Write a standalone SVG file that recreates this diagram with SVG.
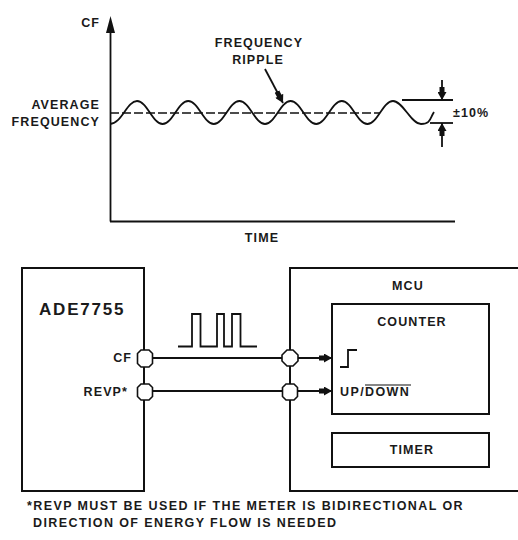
<svg xmlns="http://www.w3.org/2000/svg" width="518" height="540" viewBox="0 0 518 540">
<defs>
<style>
text{font-family:"Liberation Sans",Arial,sans-serif;font-weight:bold;fill:#1a1a1a;font-size:12.5px;letter-spacing:1.1px}
.ln{stroke:#111;stroke-width:1.8;fill:none}
.box{stroke:#111;stroke-width:2;fill:none}
.dash{stroke:#111;stroke-width:1.5;fill:none;stroke-dasharray:9 3}
.pin{stroke:#111;stroke-width:1.6;fill:#fff}
.mid{text-anchor:middle}
.end{text-anchor:end}
.fn{letter-spacing:1.4px}
</style>
<marker id="ah" viewBox="0 0 13 9" refX="13" refY="4.5" markerWidth="13" markerHeight="9" markerUnits="userSpaceOnUse" orient="auto">
<path d="M0,2 L5,2 L5,0 L13,4.5 L5,9 L5,7 L0,7 Z" fill="#111"/>
</marker>
</defs>
<rect width="518" height="540" fill="#fff"/>

<g id="chart">
<line class="ln" x1="110.5" y1="30" x2="110.5" y2="221.5"/>
<polygon points="110.5,16 106,33 115,33" fill="#111"/>
<line class="ln" x1="110" y1="221.5" x2="455" y2="221.5"/>
<text class="end" x="100" y="27">CF</text>
<text class="mid" x="262" y="242">TIME</text>
<text class="end" x="100" y="109">AVERAGE</text>
<text class="end" x="100" y="126">FREQUENCY</text>
<line class="dash" x1="110" y1="113" x2="380" y2="113"/>
<path class="ln" d="M110,124 C121.4,124 127,101 137,101 S152.6,124 162.6,124 S178.2,101 188.2,101 S203.8,124 213.8,124 S229.4,101 239.4,101 S255,124 265,124 S280.6,101 290.6,101 S306.2,124 316.2,124 S331.8,101 341.8,101 S357.4,124 367.4,124 S383,101 393,101 S411,124 421,124 S430,118 434,112"/>
<text class="mid" x="259" y="47">FREQUENCY</text>
<text class="mid" x="258" y="64">RIPPLE</text>
<line class="ln" x1="265" y1="69" x2="283" y2="103" marker-end="url(#ah)"/>
<line class="ln" x1="402" y1="100" x2="453" y2="100"/>
<line class="ln" x1="430" y1="123" x2="453" y2="123"/>
<line class="ln" x1="442" y1="80" x2="442" y2="100" marker-end="url(#ah)"/>
<line class="ln" x1="442" y1="147" x2="442" y2="123" marker-end="url(#ah)"/>
<text x="453" y="117">±10%</text>
</g>

<g id="ade7755">
<rect class="box" x="22" y="268" width="122" height="223"/>
<text x="39" y="315" style="font-size:17px;letter-spacing:1.8px">ADE7755</text>
<text class="end" x="132" y="362">CF</text>
<text class="end" x="128" y="396">REVP*</text>
</g>

<g id="mcu">
<rect class="box" x="290" y="268" width="240" height="223"/>
<text class="mid" x="408" y="290">MCU</text>
</g>

<g id="counter">
<rect class="box" x="332" y="304" width="157" height="110"/>
<text class="mid" x="412" y="326">COUNTER</text>
<path class="ln" d="M340,367 H348 V350 H357"/>
<text x="340" y="396" class="fn">UP/DOWN</text>
<line x1="365" y1="385" x2="411" y2="385" stroke="#111" stroke-width="1.2"/>
</g>

<g id="timer">
<rect class="box" x="332" y="433" width="157" height="34"/>
<text class="mid" x="412" y="454">TIMER</text>
</g>

<g id="connectors">
<path class="ln" d="M178,346.5 H192 V314 H200.5 V346.5 H217 V314 H224 V346.5 H232 V314 H240.5 V346.5 H257"/>
<line class="ln" x1="152" y1="358" x2="282" y2="358"/>
<line class="ln" x1="152" y1="391" x2="283" y2="391"/>
<line class="ln" x1="298" y1="358" x2="332" y2="358" marker-end="url(#ah)"/>
<line class="ln" x1="297" y1="391" x2="332" y2="391" marker-end="url(#ah)"/>
<path class="pin" d="M141,350 H149 L152.5,353.5 V363.5 L149,367 H141 L137.5,363.5 V353.5 Z"/>
<path class="pin" d="M141,384 H149 L152.5,387.5 V396.5 L149,400 H141 L137.5,396.5 V387.5 Z"/>
<path class="pin" d="M287,350 H293 L298,355 V361 L293,366 H287 L282,361 V355 Z"/>
<path class="pin" d="M286,384 H294 L297.5,387.5 V396.5 L294,400 H286 L282.5,396.5 V387.5 Z"/>
</g>

<g id="footnote">
<text class="fn" x="27" y="510">*REVP MUST BE USED IF THE METER IS BIDIRECTIONAL OR</text>
<text class="fn" x="33" y="527">DIRECTION OF ENERGY FLOW IS NEEDED</text>
</g>
</svg>
